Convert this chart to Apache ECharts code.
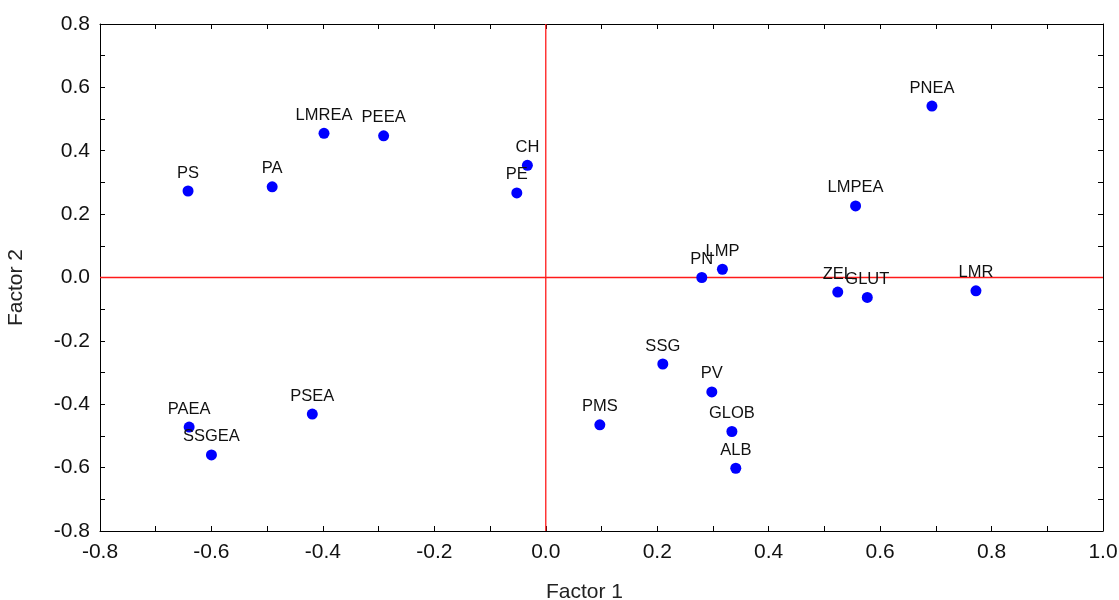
<!DOCTYPE html>
<html>
<head>
<meta charset="utf-8">
<script src="https://cdn.jsdelivr.net/npm/echarts@6/dist/echarts.min.js"></script>
<style>html,body{margin:0;padding:0;background:#fff}#c{width:1119px;height:600px}</style>
</head>
<body>
<div id="c"></div>
<script>
const names = ['PS','PA','LMREA','PEEA','CH','PE','PNEA','LMPEA','PN','LMP','ZEL','GLUT','LMR','SSG','PV','PMS','GLOB','ALB','PAEA','SSGEA','PSEA'];
const factor1 = [-0.642,-0.491,-0.398,-0.291,-0.033,-0.052,0.693,0.556,0.280,0.317,0.524,0.577,0.772,0.210,0.298,0.097,0.334,0.341,-0.640,-0.600,-0.419];
const factor2 = [0.273,0.286,0.455,0.447,0.354,0.267,0.541,0.226,0.000,0.026,-0.046,-0.063,-0.042,-0.273,-0.361,-0.465,-0.486,-0.602,-0.472,-0.560,-0.431];
const xName = 'Factor 1';
const yName = 'Factor 2';
const xRange = [-0.8, 1.0];
const yRange = [-0.8, 0.8];

const chart = echarts.init(document.getElementById('c'));
const font = 'Arial, "Liberation Sans", sans-serif';
const fmt = v => (Math.round(v * 10) % 2 === 0) ? v.toFixed(1) : '';
const mkLine = () => ({ onZero: false, lineStyle: { color: '#000', width: 1 } });
const mkTick = () => ({ show: true, inside: true, length: 5, lineStyle: { color: '#000' } });
const redLine = { color: '#ff1a1a', width: 1.3, type: 'solid' };
option = {
  animation: false,
  backgroundColor: '#fff',
  grid: { left: 100, right: 16, top: 24, bottom: 69, containLabel: false, outerBoundsMode: 'none' },
  xAxis: [{
    type: 'value', min: xRange[0], max: xRange[1], interval: 0.1, position: 'bottom',
    name: xName, nameLocation: 'middle', nameGap: 51, nameMoveOverlap: false,
    nameTextStyle: { fontFamily: font, fontSize: 21, color: '#222', padding: [0, 34, 0, 0] },
    axisLine: mkLine(), axisTick: mkTick(), splitLine: { show: false },
    axisLabel: { formatter: fmt, fontFamily: font, fontSize: 21, color: '#111', margin: 11, showMinLabel: true, showMaxLabel: true }
  }, {
    type: 'value', min: xRange[0], max: xRange[1], interval: 0.1, position: 'top',
    axisLine: mkLine(), axisTick: mkTick(), splitLine: { show: false },
    axisLabel: { show: false }
  }],
  yAxis: [{
    type: 'value', min: yRange[0], max: yRange[1], interval: 0.1, position: 'left',
    name: yName, nameLocation: 'middle', nameGap: 73, nameMoveOverlap: false,
    nameTextStyle: { fontFamily: font, fontSize: 21, color: '#222', padding: [0, 20, 0, 0] },
    axisLine: mkLine(), axisTick: mkTick(), splitLine: { show: false },
    axisLabel: { formatter: fmt, fontFamily: font, fontSize: 21, color: '#111', margin: 10, showMinLabel: true, showMaxLabel: true }
  }, {
    type: 'value', min: yRange[0], max: yRange[1], interval: 0.1, position: 'right',
    axisLine: mkLine(), axisTick: mkTick(), splitLine: { show: false },
    axisLabel: { show: false }
  }],
  series: [{
    type: 'line', xAxisIndex: 0, yAxisIndex: 0, symbol: 'none', silent: true,
    lineStyle: redLine, data: [[0, yRange[0]], [0, yRange[1]]], z: 1
  }, {
    type: 'line', xAxisIndex: 0, yAxisIndex: 0, symbol: 'none', silent: true,
    lineStyle: redLine, data: [[xRange[0], 0], [xRange[1], 0]], z: 1
  }, {
    type: 'scatter',
    xAxisIndex: 0, yAxisIndex: 0,
    symbolSize: 11,
    itemStyle: { color: '#0000ff', opacity: 1 },
    data: names.map((n, i) => ({ name: n, value: [factor1[i], factor2[i]] })),
    label: {
      show: true, position: 'top', distance: 4,
      formatter: p => p.name,
      fontFamily: font, fontSize: 16.5, color: '#111'
    },
    labelLayout: { hideOverlap: false },
    z: 3
  }]
};
chart.setOption(option);
</script>
</body>
</html>
